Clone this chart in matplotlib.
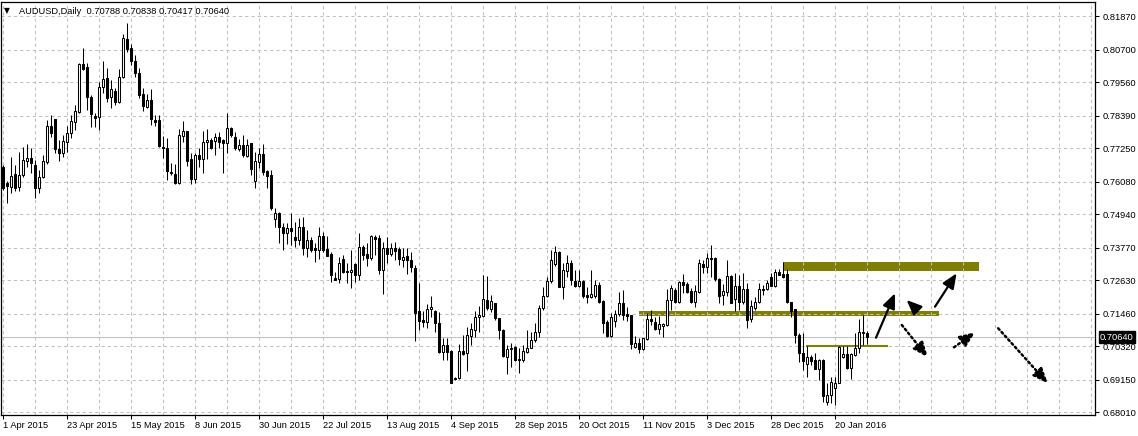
import matplotlib
matplotlib.use("Agg")
import matplotlib.pyplot as plt
from matplotlib.patches import Rectangle
from matplotlib.transforms import blended_transform_factory

plt.rcParams["font.family"] = ["Liberation Sans", "DejaVu Sans"]

# AUDUSD daily candles (bar 0 = 1 Apr 2015)
opens = [
    0.7661, 0.7602, 0.7591, 0.7635, 0.7588, 0.7630, 0.7679, 0.7691, 0.7665, 0.7587,
    0.7623, 0.7678, 0.7803, 0.7828, 0.7722, 0.7710, 0.7748, 0.7777, 0.7818, 0.7853,
    0.8021, 0.8010, 0.7906, 0.7838, 0.7833, 0.7938, 0.7971, 0.7906, 0.7926, 0.7888,
    0.7973, 0.8108, 0.8075, 0.8032, 0.7990, 0.7915, 0.7871, 0.7894, 0.7824, 0.7824,
    0.7730, 0.7725, 0.7641, 0.7635, 0.7605, 0.7769, 0.7786, 0.7686, 0.7619, 0.7701,
    0.7687, 0.7746, 0.7754, 0.7752, 0.7765, 0.7754, 0.7745, 0.7795, 0.7763, 0.7721,
    0.7737, 0.7698, 0.7742, 0.7612, 0.7678, 0.7704, 0.7645, 0.7631, 0.7478, 0.7497,
    0.7448, 0.7427, 0.7445, 0.7413, 0.7404, 0.7448, 0.7375, 0.7404, 0.7377, 0.7369,
    0.7418, 0.7371, 0.7355, 0.7272, 0.7266, 0.7338, 0.7296, 0.7291, 0.7320, 0.7281,
    0.7378, 0.7355, 0.7342, 0.7416, 0.7410, 0.7299, 0.7375, 0.7355, 0.7376, 0.7374,
    0.7334, 0.7348, 0.7334, 0.7307, 0.7156, 0.7124, 0.7116, 0.7162, 0.7156, 0.7112,
    0.7013, 0.7036, 0.7015, 0.6917, 0.6920, 0.7015, 0.7010, 0.7068, 0.7089, 0.7134,
    0.7139, 0.7194, 0.7163, 0.7182, 0.7130, 0.7089, 0.6996, 0.7022, 0.7031, 0.6984,
    0.6984, 0.7013, 0.7027, 0.7054, 0.7081, 0.7165, 0.7208, 0.7262, 0.7320, 0.7363,
    0.7240, 0.7297, 0.7322, 0.7262, 0.7244, 0.7262, 0.7212, 0.7206, 0.7209, 0.7247,
    0.7191, 0.7118, 0.7068, 0.7122, 0.7144, 0.7185, 0.7145, 0.7142, 0.7028, 0.7042,
    0.7022, 0.7056, 0.7126, 0.7118, 0.7091, 0.7104, 0.7106, 0.7194, 0.7229, 0.7188,
    0.7258, 0.7250, 0.7227, 0.7188, 0.7223, 0.7320, 0.7308, 0.7340, 0.7340, 0.7266,
    0.7212, 0.7221, 0.7278, 0.7196, 0.7243, 0.7188, 0.7233, 0.7126, 0.7167, 0.7186,
    0.7233, 0.7231, 0.7276, 0.7244, 0.7293, 0.7285, 0.7285, 0.7188, 0.7162, 0.7072,
    0.7007, 0.6969, 0.6996, 0.6984, 0.6952, 0.6984, 0.6836, 0.6861, 0.6885, 0.6904,
    0.6996, 0.7004, 0.6955, 0.7002, 0.7025, 0.7080, 0.70788,
]
highs = [
    0.7666, 0.7610, 0.7696, 0.7666, 0.7711, 0.7730, 0.7740, 0.7725, 0.7684, 0.7649,
    0.7701, 0.7824, 0.7841, 0.7828, 0.7754, 0.7771, 0.7803, 0.7841, 0.7877, 0.8025,
    0.8075, 0.8022, 0.7912, 0.7850, 0.7957, 0.8031, 0.8007, 0.7964, 0.7935, 0.8001,
    0.8125, 0.8162, 0.8090, 0.8052, 0.8007, 0.7935, 0.7915, 0.7931, 0.7841, 0.7841,
    0.7768, 0.7760, 0.7672, 0.7670, 0.7791, 0.7820, 0.7786, 0.7707, 0.7707, 0.7725,
    0.7786, 0.7793, 0.7760, 0.7777, 0.7781, 0.7756, 0.7847, 0.7798, 0.7783, 0.7758,
    0.7771, 0.7756, 0.7745, 0.7713, 0.7725, 0.7740, 0.7649, 0.7649, 0.7515, 0.7501,
    0.7462, 0.7462, 0.7497, 0.7468, 0.7480, 0.7486, 0.7439, 0.7416, 0.7392, 0.7448,
    0.7433, 0.7418, 0.7363, 0.7293, 0.7346, 0.7352, 0.7322, 0.7369, 0.7325, 0.7427,
    0.7387, 0.7392, 0.7422, 0.7422, 0.7422, 0.7398, 0.7413, 0.7395, 0.7398, 0.7378,
    0.7375, 0.7375, 0.7361, 0.7316, 0.7252, 0.7156, 0.7180, 0.7208, 0.7159, 0.7153,
    0.7060, 0.7060, 0.7018, 0.6926, 0.7040, 0.7071, 0.7101, 0.7115, 0.7156, 0.7173,
    0.7282, 0.7278, 0.7211, 0.7185, 0.7132, 0.7091, 0.7036, 0.7042, 0.7033, 0.7025,
    0.7036, 0.7089, 0.7083, 0.7115, 0.7177, 0.7240, 0.7275, 0.7369, 0.7383, 0.7367,
    0.7322, 0.7350, 0.7334, 0.7299, 0.7299, 0.7264, 0.7240, 0.7299, 0.7264, 0.7258,
    0.7194, 0.7124, 0.7147, 0.7159, 0.7223, 0.7229, 0.7168, 0.7142, 0.7068, 0.7060,
    0.7062, 0.7150, 0.7159, 0.7133, 0.7138, 0.7112, 0.7231, 0.7247, 0.7235, 0.7260,
    0.7284, 0.7258, 0.7235, 0.7247, 0.7336, 0.7334, 0.7360, 0.7387, 0.7343, 0.7270,
    0.7249, 0.7334, 0.7282, 0.7287, 0.7282, 0.7287, 0.7252, 0.7194, 0.7206, 0.7252,
    0.7247, 0.7264, 0.7287, 0.7301, 0.7303, 0.7328, 0.7301, 0.7188, 0.7162, 0.7077,
    0.7077, 0.7033, 0.7002, 0.7007, 0.6986, 0.6988, 0.6902, 0.6926, 0.6926, 0.7033,
    0.7033, 0.7033, 0.7007, 0.7080, 0.7126, 0.7140, 0.70838,
]
lows = [
    0.7579, 0.7532, 0.7570, 0.7577, 0.7577, 0.7626, 0.7661, 0.7637, 0.7552, 0.7567,
    0.7620, 0.7670, 0.7765, 0.7707, 0.7682, 0.7696, 0.7713, 0.7760, 0.7789, 0.7850,
    0.7999, 0.7859, 0.7801, 0.7801, 0.7789, 0.7917, 0.7888, 0.7865, 0.7877, 0.7885,
    0.7970, 0.8063, 0.8017, 0.7976, 0.7902, 0.7857, 0.7865, 0.7807, 0.7803, 0.7730,
    0.7690, 0.7614, 0.7631, 0.7600, 0.7600, 0.7748, 0.7663, 0.7599, 0.7602, 0.7661,
    0.7637, 0.7689, 0.7721, 0.7701, 0.7725, 0.7640, 0.7710, 0.7763, 0.7719, 0.7717,
    0.7693, 0.7693, 0.7631, 0.7585, 0.7655, 0.7631, 0.7587, 0.7509, 0.7451, 0.7392,
    0.7369, 0.7390, 0.7385, 0.7381, 0.7387, 0.7352, 0.7346, 0.7363, 0.7328, 0.7336,
    0.7363, 0.7348, 0.7258, 0.7264, 0.7252, 0.7287, 0.7252, 0.7235, 0.7258, 0.7264,
    0.7334, 0.7314, 0.7334, 0.7352, 0.7285, 0.7215, 0.7322, 0.7348, 0.7334, 0.7316,
    0.7311, 0.7284, 0.7293, 0.7050, 0.7090, 0.7101, 0.7095, 0.7136, 0.7083, 0.7010,
    0.6984, 0.6984, 0.6903, 0.6914, 0.6916, 0.7002, 0.6946, 0.7036, 0.7063, 0.7083,
    0.7134, 0.7159, 0.7153, 0.7124, 0.7056, 0.6996, 0.6935, 0.6961, 0.6982, 0.6937,
    0.6978, 0.7007, 0.7025, 0.7048, 0.7066, 0.7159, 0.7206, 0.7252, 0.7313, 0.7238,
    0.7196, 0.7275, 0.7247, 0.7240, 0.7238, 0.7200, 0.7182, 0.7200, 0.7200, 0.7182,
    0.7080, 0.7066, 0.7063, 0.7101, 0.7138, 0.7124, 0.7122, 0.7021, 0.7025, 0.7010,
    0.7020, 0.7054, 0.7106, 0.7089, 0.7075, 0.7066, 0.7103, 0.7159, 0.7185, 0.7185,
    0.7217, 0.7220, 0.7185, 0.7168, 0.7220, 0.7290, 0.7287, 0.7276, 0.7262, 0.7185,
    0.7176, 0.7208, 0.7182, 0.7157, 0.7159, 0.7180, 0.7095, 0.7118, 0.7159, 0.7182,
    0.7212, 0.7229, 0.7243, 0.7241, 0.7282, 0.7270, 0.7182, 0.7133, 0.7045, 0.6978,
    0.6949, 0.6926, 0.6966, 0.6951, 0.6914, 0.6836, 0.6826, 0.6832, 0.6826, 0.6902,
    0.6990, 0.6952, 0.6916, 0.6998, 0.7007, 0.7036, 0.70417,
]
closes = [
    0.7585, 0.7594, 0.7628, 0.7587, 0.7631, 0.7683, 0.7691, 0.7675, 0.7587, 0.7624,
    0.7679, 0.7803, 0.7780, 0.7721, 0.7710, 0.7750, 0.7777, 0.7820, 0.7856, 0.8021,
    0.8004, 0.7906, 0.7845, 0.7832, 0.7940, 0.7968, 0.7902, 0.7931, 0.7888, 0.7975,
    0.8110, 0.8074, 0.8032, 0.7990, 0.7912, 0.7874, 0.7894, 0.7829, 0.7818, 0.7733,
    0.7725, 0.7647, 0.7640, 0.7605, 0.7771, 0.7786, 0.7682, 0.7619, 0.7701, 0.7689,
    0.7746, 0.7754, 0.7727, 0.7765, 0.7748, 0.7745, 0.7795, 0.7771, 0.7725, 0.7737,
    0.7701, 0.7737, 0.7653, 0.7679, 0.7704, 0.7643, 0.7629, 0.7515, 0.7497, 0.7451,
    0.7427, 0.7445, 0.7436, 0.7404, 0.7448, 0.7377, 0.7404, 0.7369, 0.7369, 0.7418,
    0.7369, 0.7349, 0.7283, 0.7265, 0.7322, 0.7293, 0.7291, 0.7299, 0.7281, 0.7378,
    0.7352, 0.7342, 0.7418, 0.7409, 0.7299, 0.7375, 0.7355, 0.7375, 0.7367, 0.7336,
    0.7346, 0.7334, 0.7311, 0.7147, 0.7120, 0.7118, 0.7163, 0.7168, 0.7112, 0.7013,
    0.7036, 0.7013, 0.6905, 0.6922, 0.7015, 0.7005, 0.7070, 0.7091, 0.7134, 0.7142,
    0.7198, 0.7165, 0.7192, 0.7130, 0.7089, 0.6998, 0.7022, 0.7027, 0.6984, 0.6988,
    0.7015, 0.7027, 0.7054, 0.7081, 0.7165, 0.7208, 0.7262, 0.7334, 0.7361, 0.7240,
    0.7299, 0.7322, 0.7264, 0.7244, 0.7262, 0.7208, 0.7206, 0.7215, 0.7247, 0.7188,
    0.7112, 0.7068, 0.7133, 0.7145, 0.7185, 0.7142, 0.7139, 0.7040, 0.7042, 0.7022,
    0.7060, 0.7126, 0.7121, 0.7092, 0.7110, 0.7109, 0.7194, 0.7235, 0.7188, 0.7258,
    0.7247, 0.7223, 0.7188, 0.7226, 0.7322, 0.7311, 0.7340, 0.7336, 0.7266, 0.7209,
    0.7226, 0.7278, 0.7185, 0.7243, 0.7188, 0.7233, 0.7124, 0.7173, 0.7188, 0.7233,
    0.7229, 0.7255, 0.7244, 0.7291, 0.7283, 0.7273, 0.7186, 0.7157, 0.7072, 0.7007,
    0.6982, 0.6996, 0.6982, 0.6952, 0.6984, 0.6859, 0.6861, 0.6906, 0.6904, 0.7031,
    0.7004, 0.6955, 0.7004, 0.7025, 0.7081, 0.7083, 0.70640,
]

date_labels = ["1 Apr 2015", "23 Apr 2015", "15 May 2015", "8 Jun 2015", "30 Jun 2015",
               "22 Jul 2015", "13 Aug 2015", "4 Sep 2015", "28 Sep 2015", "20 Oct 2015",
               "11 Nov 2015", "3 Dec 2015", "28 Dec 2015", "20 Jan 2016"]
price_ticks = [0.68010, 0.69150, 0.70320, 0.71460, 0.72630, 0.73770, 0.74940,
               0.76080, 0.77250, 0.78390, 0.79560, 0.80700, 0.81870]

# drawn objects: (bar from, bar to, price low, price high)
zones = [(195, 244, 0.72966, 0.73271), (159, 234, 0.71381, 0.71556)]
support_line = (201, 221, 0.70330)
solid_arrows = [((218.25, 0.70621), (223.0, 0.72175)),
                ((228.0, 0.71661), (225.9, 0.71941)),
                ((233.0, 0.71706), (238.4, 0.72875))]
dotted_arrows = [((224.7, 0.71066), (231.2, 0.69935)),
                 ((237.75, 0.70285), (243.0, 0.70810)),
                 ((248.8, 0.70950), (261.2, 0.69025))]

W, H = 1138, 436
left_px, right_px, top_px, bottom_px = 1, 1094.5, 2.5, 415
fig = plt.figure(figsize=(W / 100, H / 100), dpi=100)
ax = fig.add_axes([left_px / W, 1 - bottom_px / H,
                   (right_px - left_px) / W, (bottom_px - top_px) / H])

# bar i sits at pixel 3 + 4 i ; ticks 0.68010 -> y 412.3, 0.81870 -> y 16.3
ppu = (412.3 - 16.3) / (price_ticks[-1] - price_ticks[0])
ax.set_xlim((left_px - 3) / 4, (right_px - 3) / 4)
ax.set_ylim(price_ticks[0] - (bottom_px - 412.3) / ppu,
            price_ticks[-1] + (16.3 - top_px) / ppu)

n = len(closes)
xs = list(range(n))
ax.vlines(xs, lows, highs, color="black", linewidth=0.75, zorder=3)
bottoms = [min(o, c) for o, c in zip(opens, closes)]
heights = [max(abs(c - o), 1e-6) for o, c in zip(opens, closes)]
faces = ["white" if c >= o else "black" for o, c in zip(opens, closes)]
ax.bar(xs, heights, bottom=bottoms, width=0.5, color=faces,
       edgecolor="black", linewidth=0.75, zorder=4)

for x0, x1, y0, y1 in zones:
    ax.add_patch(Rectangle((x0, y0), x1 - x0, y1 - y0, facecolor="#808000",
                           edgecolor="none", zorder=0.2))
ax.plot(support_line[:2], [support_line[2]] * 2, color="#808000", lw=1.5, zorder=2)

ax.axhline(closes[-1], color="#c0c0c0", lw=0.75, zorder=1)

head = "-|>,head_length=0.9,head_width=0.38"
for tail, tip in solid_arrows:
    ax.annotate("", xy=tip, xytext=tail,
                arrowprops=dict(arrowstyle=head, mutation_scale=10, lw=1.6,
                                color="black", shrinkA=0, shrinkB=0), zorder=6)
for tail, tip in dotted_arrows:
    ax.annotate("", xy=tip, xytext=tail,
                arrowprops=dict(arrowstyle=head, mutation_scale=10, lw=1.8,
                                color="black", linestyle=(0, (0.8, 1.2)),
                                shrinkA=0, shrinkB=0), zorder=6)

# grid and axes
ax.set_axisbelow(True)
ax.set_xticks(range(0, 16 * len(date_labels), 16))
ax.set_xticklabels(date_labels, ha="left")
ax.set_xticks(range(0, 273, 8), minor=True)
ax.set_yticks(price_ticks)
ax.set_yticklabels([f"{v:.5f}" for v in price_ticks])
ax.yaxis.tick_right()
ax.grid(True, which="both", axis="x", color="#c0c0c0", linestyle=(0, (3, 3)), lw=0.75)
ax.grid(True, which="major", axis="y", color="#c0c0c0", linestyle=(0, (3, 3)), lw=0.75)
ax.tick_params(axis="x", which="minor", length=0)
ax.tick_params(axis="x", which="major", length=3, width=0.75, pad=1.5, labelsize=6.7)
ax.tick_params(axis="y", length=3, width=0.75, pad=2.5, labelsize=6.7)
for s in ax.spines.values():
    s.set_linewidth(0.9)
    s.set_color("black")

trans = blended_transform_factory(ax.transAxes, ax.transData)
ax.text(1 + 5.5 / (right_px - left_px), closes[-1], f"{closes[-1]:.5f}", transform=trans,
        ha="left", va="center", color="white", fontsize=6.7, clip_on=False, zorder=10,
        bbox=dict(boxstyle="square,pad=0.15", fc="black", ec="black"))

fig.text(7 / W, 1 - 11 / H, "\u25bc", fontsize=5.5, family="DejaVu Sans",
         ha="center", va="center")
fig.text(19 / W, 1 - 11 / H,
         f"AUDUSD,Daily  {opens[-1]:.5f} {highs[-1]:.5f} {lows[-1]:.5f} {closes[-1]:.5f}",
         fontsize=6.7, ha="left", va="center")

fig.savefig("out.png", dpi=100)
